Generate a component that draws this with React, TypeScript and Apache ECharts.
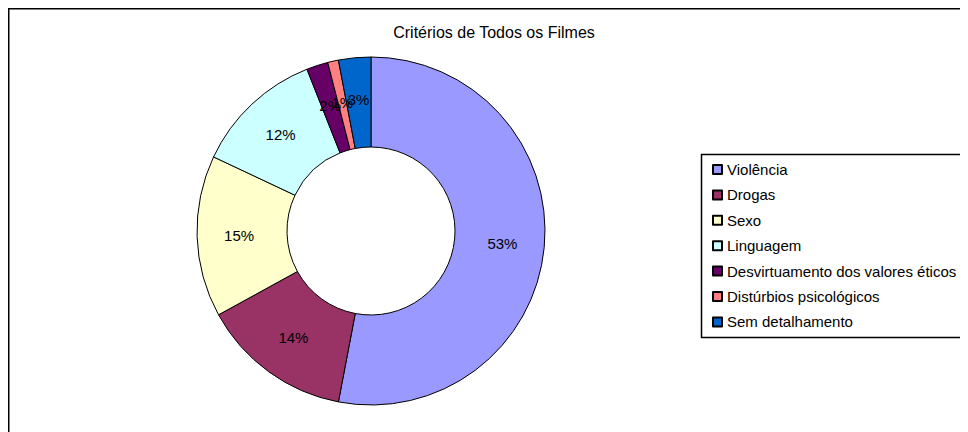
import React, { useEffect, useRef } from "react";
import * as echarts from "echarts";

const categories = [
  "Violência",
  "Drogas",
  "Sexo",
  "Linguagem",
  "Desvirtuamento dos valores éticos",
  "Distúrbios psicológicos",
  "Sem detalhamento",
];
const values = [53, 14, 15, 12, 2, 1, 3];
const colors = ["#9999FF", "#993366", "#FFFFCC", "#CCFFFF", "#660066", "#FF8080", "#0066CC"];
const titleText = "Critérios de Todos os Filmes";

export default function App() {
  const ref = useRef<HTMLDivElement>(null);
  useEffect(() => {
    if (!ref.current) return;
    const chart = echarts.init(ref.current, undefined, { renderer: "svg" });
    const font = "Liberation Sans, Arial, sans-serif";
    chart.setOption({
      animation: false,
      backgroundColor: "#ffffff",
      color: colors,
      textStyle: { fontFamily: font },
      graphic: [
        {
          type: "rect",
          shape: { x: 0.5, y: 0.5, width: 1200, height: 1200 },
          style: { fill: "none", stroke: "#000", lineWidth: 2 },
          silent: true,
        },
        {
          type: "rect",
          shape: { x: 693.5, y: 146.5, width: 400, height: 183 },
          style: { fill: "none", stroke: "#000", lineWidth: 1.5 },
          silent: true,
        },
        {
          type: "text",
          x: 486,
          y: 24,
          style: {
            text: titleText,
            fontSize: 16,
            fontFamily: font,
            fill: "#000",
            textAlign: "center",
            textVerticalAlign: "middle",
          },
        },
      ],
      legend: {
        orient: "vertical",
        left: 704,
        top: 154,
        itemWidth: 9,
        itemHeight: 9,
        itemGap: 10.4,
        icon: "rect",
        padding: 0,
        textStyle: { fontSize: 15, lineHeight: 15, color: "#000", fontFamily: font, padding: [0, 0, 0, 0] },
        data: categories,
      },
      series: [
        {
          type: "pie",
          radius: [84, 174],
          center: [363, 223],
          startAngle: 90,
          clockwise: true,
          avoidLabelOverlap: false,
          labelLayout: { hideOverlap: false },
          itemStyle: { borderColor: "#000", borderWidth: 1 },
          label: {
            show: true,
            position: "inside",
            formatter: "{c}%",
            fontSize: 15,
            color: "#000",
            fontFamily: font,
          },
          labelLine: { show: false },
          emphasis: { disabled: true },
          data: categories.map((name, i) => ({ name, value: values[i] })),
        },
      ],
    });
    return () => chart.dispose();
  }, []);
  return <div ref={ref} style={{ width: 960, height: 424 }} />;
}
